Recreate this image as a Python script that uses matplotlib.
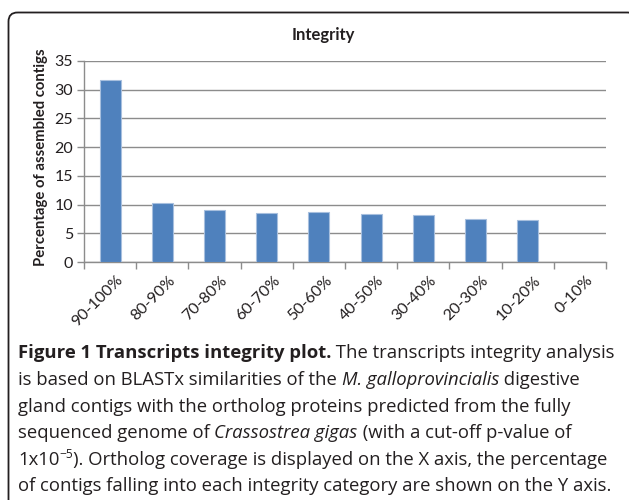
import matplotlib
matplotlib.use("Agg")
import matplotlib.pyplot as plt
from matplotlib.patches import FancyBboxPatch
import matplotlib.transforms as mtransforms

categories = ["90-100%", "80-90%", "70-80%", "60-70%", "50-60%",
              "40-50%", "30-40%", "20-30%", "10-20%", "0-10%"]
values = [31.7, 10.2, 9.1, 8.6, 8.7, 8.4, 8.2, 7.5, 7.3, 0.0]
yticks = [0, 5, 10, 15, 20, 25, 30, 35]
title = "Integrity"
ylabel = "Percentage of assembled contigs"

W, H = 629, 500
fig = plt.figure(figsize=(W / 100, H / 100), dpi=100)

# background overlay axes in pixel coordinates
bg = fig.add_axes([0, 0, 1, 1])
bg.set_xlim(0, W)
bg.set_ylim(H, 0)
bg.axis("off")
bg.add_patch(FancyBboxPatch((8.5, 12.5), 628, 500, boxstyle="round,pad=0,rounding_size=9",
                            fill=False, ec="#231f20", lw=1.3))

FONT = "Open Sans"
CFONT = "Lato"
TXT = "#231f20"

ax = fig.add_axes([84 / W, (H - 262) / H, (606 - 84) / W, (262 - 61) / H])
x = list(range(len(categories)))
ax.bar(x, values, width=0.4, color="#4f81bd", edgecolor="#a7bfde", linewidth=0.8, zorder=3)
ax.set_xlim(-0.5, len(categories) - 0.5)
ax.set_ylim(0, 35)
ax.set_yticks(yticks)
ax.set_yticklabels([str(t) for t in yticks], fontfamily=CFONT, fontsize=11.5, color=TXT)
ax.yaxis.grid(True, color="#8c8c8c", lw=1.0, zorder=0)
for s in ["top", "right"]:
    ax.spines[s].set_visible(False)
for s in ["left", "bottom"]:
    ax.spines[s].set_color("#8c8c8c")
    ax.spines[s].set_linewidth(1.0)
ax.tick_params(axis="y", length=5, width=1.0, color="#8c8c8c", pad=3)
ax.set_xticks(x)
ax.set_xticklabels(categories, rotation=45, ha="right", va="top", rotation_mode="anchor",
                   fontfamily=CFONT, fontsize=11.5, color=TXT)
ax.tick_params(axis="x", which="major", length=0, pad=8)
ax.set_xticks([i - 0.5 for i in range(len(categories) + 1)], minor=True)
ax.tick_params(axis="x", which="minor", length=5, width=1.0, color="#8c8c8c")
offset = mtransforms.ScaledTranslation(6 / 100, 0, fig.dpi_scale_trans)
for lab in ax.get_xticklabels():
    lab.set_transform(lab.get_transform() + offset)

fig.text(323 / W, 1 - 35 / H, title, ha="center", va="center", fontfamily=CFONT,
         fontweight="bold", fontsize=12, color=TXT)
fig.text(41 / W, 1 - 157 / H, ylabel, ha="center", va="center", rotation=90,
         fontfamily=CFONT, fontweight="bold", fontsize=10.7, color=TXT)

# caption
caption = [
    [("Figure 1 Transcripts integrity plot.", "bold", "normal", False),
     (" The transcripts integrity analysis", "normal", "normal", False)],
    [("is based on BLASTx similarities of the ", "normal", "normal", False),
     ("M. galloprovincialis", "normal", "italic", False),
     (" digestive", "normal", "normal", False)],
    [("gland contigs with the ortholog proteins predicted from the fully", "normal", "normal", False)],
    [("sequenced genome of ", "normal", "normal", False),
     ("Crassostrea gigas", "normal", "italic", False),
     (" (with a cut-off p-value of", "normal", "normal", False)],
    [("1x10", "normal", "normal", False),
     ("\u22125", "normal", "normal", True),
     ("). Ortholog coverage is displayed on the X axis, the percentage", "normal", "normal", False)],
    [("of contigs falling into each integrity category are shown on the Y axis.", "normal", "normal", False)],
]
baselines = [358, 385, 411.5, 438, 465, 491]
CAP_SIZE = 13.3
renderer = fig.canvas.get_renderer()


def seg_width(s, **kw):
    # measure with sentinel characters so leading/trailing spaces count
    t1 = fig.text(0, 0, "|" + s + "|", **kw)
    t2 = fig.text(0, 0, "||", **kw)
    w = t1.get_window_extent(renderer).width - t2.get_window_extent(renderer).width
    t1.remove(); t2.remove()
    return w


for line, yb in zip(caption, baselines):
    xp = 18.0
    for s, weight, style, sup in line:
        size = CAP_SIZE * 0.65 if sup else CAP_SIZE
        y = yb - (7 if sup else 0)
        kw = dict(fontfamily=FONT, fontweight=weight, fontstyle=style, fontsize=size, color=TXT)
        fig.text(xp / W, 1 - y / H, s, ha="left", va="baseline", **kw)
        xp += seg_width(s, **kw)

fig.savefig("out.png", dpi=100)
